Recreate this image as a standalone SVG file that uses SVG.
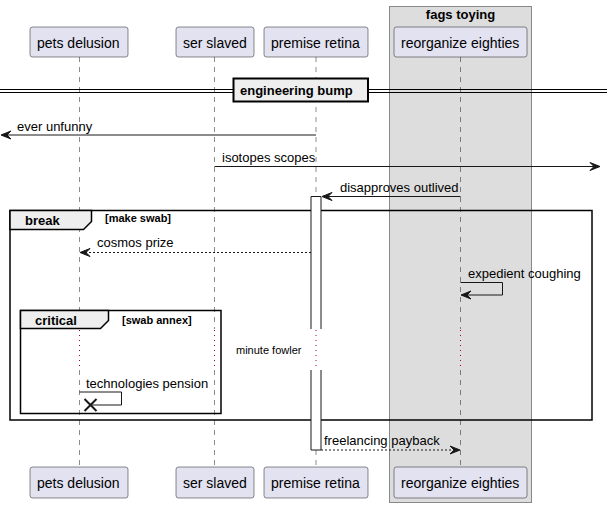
<svg xmlns="http://www.w3.org/2000/svg" width="607" height="508" viewBox="0 0 607 508">
<style>
text{font-family:"Liberation Sans",Arial,sans-serif;fill:#000}
.part rect{fill:#E2E2F0;stroke:#181818;stroke-width:0.5}
.pt{font-size:14px}
.msg{font-size:13px}
.bold{font-weight:bold}
.life{stroke:#181818;stroke-width:0.5;stroke-dasharray:5,5;fill:none}
.dot{stroke:#A80036;stroke-width:1;stroke-dasharray:1,4;fill:none}
.ln{stroke:#181818;stroke-width:1;fill:none}
.dash{stroke:#181818;stroke-width:1;stroke-dasharray:2,2;fill:none}
.ah{fill:#181818;stroke:#181818;stroke-width:1}
.frame{fill:none;stroke:#000;stroke-width:1.5}
.tab{fill:#EEEEEE;stroke:#000;stroke-width:1.5}
</style>
<rect x="389.5" y="6.5" width="142" height="496" fill="#DDDDDD" stroke="#888888" stroke-width="1"/>
<text x="460.5" y="19" class="msg bold" text-anchor="middle">fags toying</text>

<g id="lifelines">
<path class="life" d="M79.5,57V329M79.5,370V467"/>
<path class="life" d="M214.5,57V329M214.5,370V467"/>
<path class="life" d="M316,57V329M316,370V467"/>
<path class="life" d="M460.5,57V329M460.5,370V467"/>
<path class="dot" d="M79.5,330V370M214.5,330V370M316,330V370M460.5,330V370"/>
</g>

<g id="p1" class="part"><rect x="30" y="27" width="98" height="30" rx="2.5"/><text class="pt" x="37" y="48">pets delusion</text></g>
<g id="p2" class="part"><rect x="176" y="27" width="78" height="30" rx="2.5"/><text class="pt" x="183" y="48">ser slaved</text></g>
<g id="p3" class="part"><rect x="264" y="27" width="104" height="30" rx="2.5"/><text class="pt" x="271" y="48">premise retina</text></g>
<g id="p4" class="part"><rect x="394" y="27" width="133" height="30" rx="2.5"/><text class="pt" x="401" y="48">reorganize eighties</text></g>
<g id="p1b" class="part"><rect x="30" y="467" width="98" height="31" rx="2.5"/><text class="pt" x="37" y="488">pets delusion</text></g>
<g id="p2b" class="part"><rect x="176" y="467" width="78" height="31" rx="2.5"/><text class="pt" x="183" y="488">ser slaved</text></g>
<g id="p3b" class="part"><rect x="264" y="467" width="104" height="31" rx="2.5"/><text class="pt" x="271" y="488">premise retina</text></g>
<g id="p4b" class="part"><rect x="394" y="467" width="133" height="31" rx="2.5"/><text class="pt" x="401" y="488">reorganize eighties</text></g>

<g id="divider">
<line x1="0" y1="89.5" x2="607" y2="89.5" stroke="#000" stroke-width="1"/>
<line x1="0" y1="92.5" x2="607" y2="92.5" stroke="#000" stroke-width="1"/>
<rect x="233.5" y="78.5" width="134.5" height="23" fill="#EEEEEE" stroke="#000" stroke-width="2"/>
<text x="240" y="95" class="msg bold">engineering bump</text>
</g>

<g id="frames">
<rect class="frame" x="10" y="210.5" width="582" height="209.5"/>
<path class="tab" d="M10,210.5H91.5V221.5L83.5,229.5H10Z"/>
<text x="25" y="225" class="msg bold">break</text>
<text x="105" y="222" font-size="11" class="bold">[make swab]</text>
<rect class="frame" x="20.5" y="310.5" width="200.5" height="103"/>
<path class="tab" d="M20.5,310.5H108.5V320.5L100.5,328.5H20.5Z"/>
<text x="35" y="325" class="msg bold">critical</text>
<text x="122" y="324" font-size="11" class="bold">[swab annex]</text>
</g>

<g id="activation">
<rect x="311" y="196.5" width="10" height="253.5" fill="#FFFFFF" stroke="none"/>
<path class="ln" d="M311,329V196.5H321V329M311,370V450H321V370"/>
<path class="dot" d="M316,330V370"/>
</g>

<g id="connectors">
<line class="ln" x1="316" y1="135" x2="2" y2="135"/>
<polygon class="ah" points="1,135 11,131 7,135 11,139"/>
<text class="msg" x="17" y="131">ever unfunny</text>

<line class="ln" x1="214.5" y1="166.5" x2="599" y2="166.5"/>
<polygon class="ah" points="600,166.5 590,162.5 594,166.5 590,170.5"/>
<text class="msg" x="222" y="162">isotopes scopes</text>

<line class="ln" x1="460.5" y1="196.5" x2="323" y2="196.5"/>
<polygon class="ah" points="322,196.5 332,192.5 328,196.5 332,200.5"/>
<text class="msg" x="340" y="192">disapproves outlived</text>

<line class="dash" x1="311" y1="252.5" x2="81" y2="252.5"/>
<polygon class="ah" points="80,252.5 90,248.5 86,252.5 90,256.5"/>
<text class="msg" x="97" y="247">cosmos prize</text>

<polyline class="ln" points="460.5,282.5 502.5,282.5 502.5,295 462,295"/>
<polygon class="ah" points="461,295 471,291 467,295 471,299"/>
<text class="msg" x="468" y="278">expedient coughing</text>

<text x="236" y="354" font-size="11">minute fowler</text>

<polyline class="ln" points="79.5,392 121.5,392 121.5,405 90.5,405"/>
<path d="M84.5,399L96.5,411M84.5,411L96.5,399" stroke="#181818" stroke-width="2"/>
<text class="msg" x="86" y="388">technologies pension</text>

<line class="dash" x1="321" y1="450" x2="459" y2="450"/>
<polygon class="ah" points="460,450 450,446 454,450 450,454"/>
<text class="msg" x="324" y="445">freelancing payback</text>
</g>
</svg>
